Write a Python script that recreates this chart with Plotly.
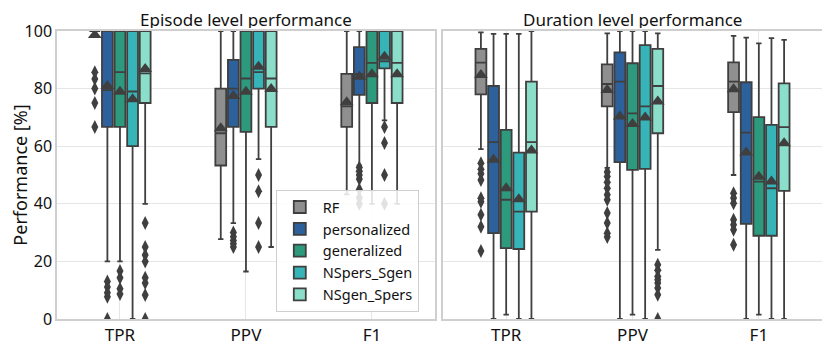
import plotly.graph_objects as go

categories = ["TPR", "PPV", "F1"]
models = ["RF", "personalized", "generalized", "NSpers_Sgen", "NSgen_Spers"]
colors = {
    "RF": "#8f8f8f",
    "personalized": "#2c619b",
    "generalized": "#2e9a7d",
    "NSpers_Sgen": "#36b4b7",
    "NSgen_Spers": "#8bdeca",
}

# Episode level performance, values per category [TPR, PPV, F1]
ep_q1 = {"RF": [100, 53.3, 66.7], "personalized": [66.7, 66.7, 77.8], "generalized": [66.7, 65.0, 75.0],
         "NSpers_Sgen": [60.0, 80.0, 87.0], "NSgen_Spers": [75.0, 66.7, 75.0]}
ep_median = {"RF": [100, 64.5, 73.8], "personalized": [79.5, 80.0, 85.0], "generalized": [85.7, 83.5, 88.9],
             "NSpers_Sgen": [79.0, 85.7, 89.5], "NSgen_Spers": [85.3, 83.5, 88.9]}
ep_q3 = {"RF": [100, 80.0, 85.1], "personalized": [100, 90.0, 94.4], "generalized": [100, 100, 100],
         "NSpers_Sgen": [100, 100, 100], "NSgen_Spers": [100, 100, 100]}
ep_low = {"RF": [100, 27.7, 43.3], "personalized": [20.0, 33.3, 53.3], "generalized": [20.0, 16.5, 40.0],
          "NSpers_Sgen": [0, 55.5, 69.0], "NSgen_Spers": [40.0, 25.0, 40.0]}
ep_high = {"RF": [100, 100, 100], "personalized": [100, 100, 100], "generalized": [100, 100, 100],
           "NSpers_Sgen": [100, 100, 100], "NSgen_Spers": [100, 100, 100]}
ep_mean = {"RF": [98.6, 66.2, 75.3], "personalized": [80.9, 77.4, 84.1], "generalized": [78.9, 78.9, 85.0],
           "NSpers_Sgen": [76.3, 87.6, 91.1], "NSgen_Spers": [86.8, 79.9, 85.0]}
ep_outliers = {
    "RF": [[85.7, 83.3, 80.0, 75.0, 66.7], [], []],
    "personalized": [[13.0, 11.1, 9.1, 7.7, 0], [30.0, 28.6, 27.3, 26.1, 25.0],
                     [52.6, 51.3, 50.0, 48.6, 45.0, 42.1, 40.0]],
    "generalized": [[16.7, 14.3, 10.5, 8.7], [], []],
    "NSpers_Sgen": [[], [50.0, 44.4, 33.3, 25.0], [66.7, 61.1, 50.0, 40.0]],
    "NSgen_Spers": [[33.3, 25.0, 22.2, 20.0, 14.3, 12.5, 8.3, 0], [], []],
}

# Duration level performance
du_q1 = {"RF": [78.0, 73.8, 71.8], "personalized": [29.8, 54.5, 33.0], "generalized": [24.6, 51.8, 28.9],
         "NSpers_Sgen": [24.3, 52.1, 28.9], "NSgen_Spers": [37.3, 64.5, 44.5]}
du_median = {"RF": [89.0, 81.6, 82.4], "personalized": [61.4, 82.4, 64.7], "generalized": [41.4, 71.4, 47.7],
             "NSpers_Sgen": [37.3, 73.8, 45.4], "NSgen_Spers": [61.4, 80.9, 66.6]}
du_q3 = {"RF": [93.8, 88.4, 89.1], "personalized": [80.9, 92.6, 82.2], "generalized": [65.7, 88.8, 70.1],
         "NSpers_Sgen": [57.8, 95.1, 67.4], "NSgen_Spers": [82.4, 93.8, 81.8]}
du_low = {"RF": [59.0, 52.5, 50.0], "personalized": [0, 0, 0], "generalized": [1.5, 1.5, 1.5],
          "NSpers_Sgen": [0, 0, 0], "NSgen_Spers": [0, 24.0, 0]}
du_high = {"RF": [99.5, 99.2, 98.3], "personalized": [99.0, 100, 97.7], "generalized": [99.0, 100, 95.7],
           "NSpers_Sgen": [99.0, 100, 97.5], "NSgen_Spers": [100, 99.2, 96.9]}
du_mean = {"RF": [84.7, 79.5, 79.8], "personalized": [55.3, 70.3, 57.8], "generalized": [45.4, 67.7, 49.4],
           "NSpers_Sgen": [41.6, 70.0, 47.7], "NSgen_Spers": [58.5, 75.5, 61.0]}
du_outliers = {
    "RF": [[54.1, 52.0, 50.4, 48.3, 41.9, 40.7, 36.2, 32.0, 23.6],
           [51.0, 49.5, 47.5, 45.4, 43.1, 41.4, 36.8, 33.3, 29.8, 28.5],
           [43.7, 42.0, 40.2, 34.5, 32.7, 31.0, 25.8]],
    "personalized": [[], [], []],
    "generalized": [[], [], []],
    "NSpers_Sgen": [[], [], []],
    "NSgen_Spers": [[], [18.8, 16.9, 14.8, 13.6, 12.5, 10.8, 8.4, 0], []],
}

LINE = "#3f3f3f"
STEP = 0.1
BOXW = 0.086

panels = [
    ("x", "y", ep_q1, ep_median, ep_q3, ep_low, ep_high, ep_mean, ep_outliers, True),
    ("x2", "y2", du_q1, du_median, du_q3, du_low, du_high, du_mean, du_outliers, False),
]

fig = go.Figure()
for xa, ya, q1, med, q3, low, high, mean, outl, show in panels:
    for j, m in enumerate(models):
        pos = [i + (j - 2) * STEP for i in range(len(categories))]
        fig.add_trace(go.Box(
            x=pos, q1=q1[m], median=med[m], q3=q3[m],
            lowerfence=low[m], upperfence=high[m],
            width=BOXW, whiskerwidth=0.5,
            fillcolor=colors[m], line=dict(color=LINE, width=1.8),
            boxpoints=False, name=m, legendgroup=m, showlegend=show,
            xaxis=xa, yaxis=ya, hoverinfo="skip",
        ))
    for j, m in enumerate(models):
        ox, oy = [], []
        for i in range(len(categories)):
            for v in outl[m][i]:
                ox.append(i + (j - 2) * STEP)
                oy.append(v)
        if ox:
            fig.add_trace(go.Scatter(
                x=ox, y=oy, mode="markers",
                marker=dict(symbol="diamond-tall", size=10, color=LINE),
                showlegend=False, xaxis=xa, yaxis=ya, hoverinfo="skip",
            ))
        fig.add_trace(go.Scatter(
            x=[i + (j - 2) * STEP for i in range(len(categories))], y=mean[m],
            mode="markers", marker=dict(symbol="triangle-up", size=12, color=LINE),
            showlegend=False, xaxis=xa, yaxis=ya, hoverinfo="skip",
        ))

axis_common = dict(
    showgrid=True, gridcolor="#e6e6e6", gridwidth=1.2,
    showline=True, linecolor="#cfcfcf", linewidth=1.5, mirror=True,
    zeroline=False, ticks="", automargin=False,
)
x_common = dict(axis_common, range=[-0.5, 2.5], tickmode="array",
                tickvals=list(range(len(categories))), ticktext=categories,
                tickfont=dict(size=17, color="#111111"))

# the page puts the figure 8px in from the top-left corner, so the figure is sized to match
fig.update_layout(
    width=822, height=340,
    margin=dict(l=49, r=8, t=23, b=29),
    paper_bgcolor="white", plot_bgcolor="white",
    font=dict(family="Noto Sans, Open Sans, sans-serif", color="#111111"),
    xaxis=dict(x_common, domain=[0, 0.494], anchor="y"),
    xaxis2=dict(x_common, domain=[0.5046, 1.0], anchor="y2"),
    yaxis=dict(axis_common, domain=[0, 1], range=[0, 100], anchor="x",
               tickvals=[0, 20, 40, 60, 80, 100], tickfont=dict(size=16, color="#111111"),
               title=dict(text="Performance [%]", font=dict(size=18), standoff=6)),
    yaxis2=dict(axis_common, domain=[0, 1], range=[0, 100], anchor="x2",
                tickvals=[0, 20, 40, 60, 80, 100], showticklabels=False),
    legend=dict(x=0.286, y=0.024, xanchor="left", yanchor="bottom",
                bgcolor="rgba(255,255,255,0.85)", bordercolor="#cfcfcf", borderwidth=1,
                font=dict(size=14.5, color="#111111"), traceorder="normal", itemwidth=36),
    annotations=[
        dict(text="Episode level performance", x=0.247, y=1.0, xref="paper", yref="paper",
             yshift=23, height=18, valign="middle", showarrow=False,
             font=dict(size=17, color="#111111"), xanchor="center", yanchor="top"),
        dict(text="Duration level performance", x=0.752, y=1.0, xref="paper", yref="paper",
             yshift=23, height=18, valign="middle", showarrow=False,
             font=dict(size=17, color="#111111"), xanchor="center", yanchor="top"),
    ],
)

fig.write_html("out.html")
